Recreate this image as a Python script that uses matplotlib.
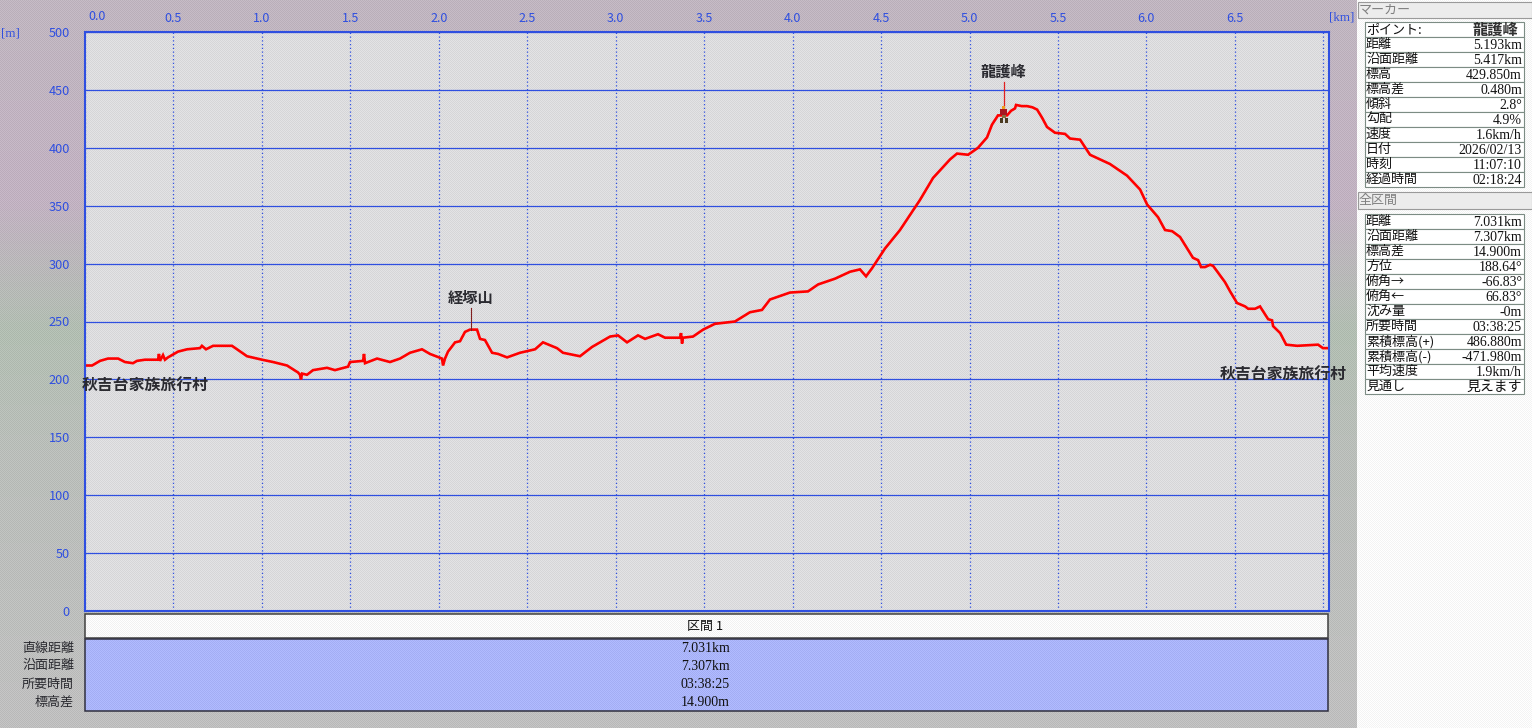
import matplotlib
matplotlib.use('Agg')
import matplotlib.pyplot as plt
from matplotlib.patches import Rectangle
import numpy as np

W, H = 1532, 728
JP = ['Noto Sans CJK JP', 'DejaVu Sans']
NUM = ['Liberation Serif', 'Noto Sans CJK JP', 'DejaVu Sans']
BLUE = '#2f4fe0'
RED = '#ff0000'
DARK = '#2a2a30'

# elevation profile
distance_km = [0.000, 0.040, 0.085, 0.130, 0.187, 0.226, 0.271, 0.294, 0.339, 0.413, 0.418, 0.424, 0.441, 0.452,
               0.469, 0.526, 0.577, 0.650, 0.661, 0.684, 0.724, 0.831, 0.916, 1.001, 1.063, 1.142, 1.204, 1.215,
               1.221, 1.227, 1.255, 1.289, 1.368, 1.413, 1.487, 1.498, 1.572, 1.577, 1.583, 1.651, 1.724, 1.781,
               1.837, 1.905, 1.950, 2.018, 2.024, 2.035, 2.052, 2.092, 2.120, 2.148, 2.176, 2.216, 2.233, 2.261,
               2.301, 2.335, 2.386, 2.459, 2.544, 2.589, 2.668, 2.702, 2.798, 2.866, 2.923, 2.968, 3.013, 3.064,
               3.126, 3.166, 3.239, 3.279, 3.364, 3.369, 3.375, 3.380, 3.437, 3.494, 3.561, 3.674, 3.759, 3.827,
               3.872, 3.985, 4.087, 4.144, 4.240, 4.325, 4.381, 4.415, 4.449, 4.522, 4.607, 4.720, 4.794, 4.890,
               4.929, 4.992, 5.048, 5.099, 5.127, 5.161, 5.212, 5.235, 5.257, 5.263, 5.295, 5.325, 5.355, 5.382,
               5.410, 5.438, 5.483, 5.540, 5.568, 5.625, 5.681, 5.738, 5.794, 5.890, 5.964, 6.004, 6.066, 6.105,
               6.145, 6.190, 6.263, 6.292, 6.309, 6.331, 6.360, 6.377, 6.444, 6.473, 6.512, 6.558, 6.575, 6.614,
               6.642, 6.688, 6.710, 6.716, 6.756, 6.790, 6.852, 6.970, 6.998, 7.031]
elevation_m = [212, 212, 216, 218, 218, 215, 214, 216, 217, 217, 222, 216, 221, 217,
               219, 224, 226, 227, 229, 226, 229, 229, 220, 217, 215, 212, 206, 204,
               200, 205, 204, 208, 210, 208, 211, 215, 216, 222, 214, 218, 215, 218,
               223, 226, 222, 218, 212, 218, 224, 232, 233, 241, 243, 243, 235, 234,
               223, 222, 219, 223, 226, 232, 227, 223, 220, 228, 233, 237, 238, 232,
               238, 235, 239, 236, 236, 240, 231, 236, 237, 243, 248, 250, 258, 260,
               269, 275, 276, 282, 287, 293, 295, 289, 296, 313, 329, 355, 374, 390,
               395, 394, 400, 409, 420, 428, 428, 432, 434, 437, 436, 436, 435, 433,
               426, 418, 413, 412, 408, 407, 394, 390, 386, 376, 364, 351, 340, 329,
               328, 323, 305, 303, 297, 297, 299, 298, 284, 276, 266, 263, 261, 261,
               263, 252, 251, 246, 240, 230, 229, 230, 227, 227]

x_ticks = [0.0, 0.5, 1.0, 1.5, 2.0, 2.5, 3.0, 3.5, 4.0, 4.5, 5.0, 5.5, 6.0, 6.5, 7.0]
x_tick_labels = ['', '0.5', '1.0', '1.5', '2.0', '2.5', '3.0', '3.5', '4.0', '4.5', '5.0', '5.5', '6.0', '6.5', '']
y_ticks = [0, 50, 100, 150, 200, 250, 300, 350, 400, 450, 500]

section_title = '区間 1'
section_names = ['直線距離', '沿面距離', '所要時間', '標高差']
section_values = ['7.031km', '7.307km', '03:38:25', '14.900m']

marker_names = ['ポイント:', '距離', '沿面距離', '標高', '標高差', '傾斜', '勾配', '速度', '日付', '時刻', '経過時間']
marker_values = ['龍護峰', '5.193km', '5.417km', '429.850m', '0.480m', '2.8°', '4.9%', '1.6km/h',
                 '2026/02/13', '11:07:10', '02:18:24']
total_names = ['距離', '沿面距離', '標高差', '方位', '俯角→', '俯角←', '沈み量', '所要時間',
               '累積標高(+)', '累積標高(-)', '平均速度', '見通し']
total_values = ['7.031km', '7.307km', '14.900m', '188.64°', '-66.83°', '66.83°', '-0m', '03:38:25',
                '486.880m', '-471.980m', '1.9km/h', '見えます']


def make_background():
    # dithered window background, colour drifts down the left side
    stops_y = [0, 200, 330, 450, 728]
    stops_c = np.array([[192, 182, 192], [194, 178, 194], [178, 190, 178], [186, 190, 186], [192, 192, 192]])
    img = np.zeros((H, W, 3))
    for c in range(3):
        img[:, :, c] = np.interp(np.arange(H), stops_y, stops_c[:, c])[:, None]
    img[32:611, 85:1329] = [220, 220, 222]
    img[639:711, 85:1328] = [170, 180, 250]
    img[614:638, 85:1328] = [248, 248, 248]
    img[:, 1357:] = [250, 250, 250]
    yy, xx = np.mgrid[0:H, 0:W]
    checker = ((xx + yy) % 2 * 2 - 1)[:, :, None]
    img = img + checker * 7
    return np.clip(img, 0, 255).astype(np.uint8)


def draw_table(ax, top, names, values, big_first=False):
    row_h = 15
    for i, (n, v) in enumerate(zip(names, values)):
        y = top + i * row_h
        ax.add_patch(Rectangle((1365, y), 159, row_h, facecolor='white', edgecolor='#7c8c84', lw=0.8))
        ax.text(1366, y + row_h / 2, n, family=JP, fontsize=9.4, va='center', ha='left', color='#111111')
        if big_first and i == 0:
            ax.text(1518, y + row_h / 2, v, family=JP, fontsize=11, weight='bold', va='center', ha='right',
                    color='#303030')
        else:
            ax.text(1522, y + row_h / 2 + 1, v, family=NUM, fontsize=10, va='center', ha='right', color='#111111')


fig = plt.figure(figsize=(W / 100, H / 100), dpi=100)

bg = fig.add_axes([0, 0, 1, 1], zorder=0)
bg.imshow(make_background(), interpolation='nearest', aspect='auto')
bg.axis('off')

ax = fig.add_axes([85 / W, (H - 611) / H, (1329 - 85) / W, (611 - 32) / H], zorder=1)
ax.patch.set_alpha(0)
ax.set_xlim(0, 7.032)
ax.set_ylim(0, 500)
ax.set_xticks(x_ticks)
ax.set_xticklabels(x_tick_labels, family=JP, fontsize=9, color=BLUE)
ax.set_yticks(y_ticks)
ax.set_yticklabels([str(v) for v in y_ticks], family=JP, fontsize=9.2, color=BLUE)
ax.tick_params(axis='x', top=True, labeltop=True, bottom=False, labelbottom=False, length=0, pad=5)
ax.tick_params(axis='y', left=False, length=0, pad=11)
ax.grid(axis='y', color=BLUE, lw=0.9)
ax.grid(axis='x', color=BLUE, lw=0.9, ls=(0, (1, 2)))
ax.set_axisbelow(True)
for s in ax.spines.values():
    s.set_color(BLUE)
    s.set_linewidth(1.5)
ax.spines['left'].set_linestyle((0, (1, 1)))

ax.plot(distance_km, elevation_m, color=RED, lw=1.9, solid_joinstyle='miter')

# named points
ax.plot([5.193, 5.193], [429.85, 457], color='#e02020', lw=0.9)
ax.plot([2.182, 2.182], [243, 262], color='#802020', lw=0.8)
ax.text(5.193, 466, '龍護峰', family=JP, fontsize=11, weight='bold', color=DARK, ha='center', va='center')
ax.text(2.182, 270, '経塚山', family=JP, fontsize=11, weight='bold', color=DARK, ha='center', va='center')
ax.text(-0.017, 195, '秋吉台家族旅行村', family=JP, fontsize=11.4, weight='bold', color=DARK, ha='left', va='center')
ax.text(7.134, 205, '秋吉台家族旅行村', family=JP, fontsize=11.4, weight='bold', color=DARK, ha='right', va='center')

# everything else is window furniture, laid out in pixels
ov = fig.add_axes([0, 0, 1, 1], zorder=2)
ov.patch.set_alpha(0)
ov.set_xlim(0, W)
ov.set_ylim(H, 0)
ov.axis('off')

# little hiker icon on the marker
ov.add_patch(Rectangle((1000, 109), 7, 6, color='#a81820', lw=0))
ov.add_patch(Rectangle((1002, 106), 3, 3, color='#f0a020', lw=0))
ov.add_patch(Rectangle((1002, 115), 4, 3, color='#8a7040', lw=0))
ov.add_patch(Rectangle((1000, 118), 3, 5, color='#4a3a20', lw=0))
ov.add_patch(Rectangle((1005, 118), 3, 5, color='#4a3a20', lw=0))

ov.text(97, 17, '0.0', family=JP, fontsize=9, color=BLUE, ha='center', va='center')
ov.text(10, 33, '[m]', family=NUM, fontsize=9.4, color=BLUE, ha='center', va='center')
ov.text(1342, 17, '[km]', family=NUM, fontsize=9.4, color=BLUE, ha='center', va='center')

ov.add_patch(Rectangle((85, 614), 1243, 24, fill=False, edgecolor='#404040', lw=1.1))
ov.text(705, 626, section_title, family=JP, fontsize=9.4, color='#111111', ha='center', va='center')
ov.add_patch(Rectangle((85, 639), 1243, 72, fill=False, edgecolor='#303040', lw=1.1))
for i, (n, v) in enumerate(zip(section_names, section_values)):
    y = 648 + i * 18
    ov.text(74, y, n, family=JP, fontsize=9.4, color='#2a2a30', ha='right', va='center')
    ov.text(705, y, v, family=NUM, fontsize=10, color='#111111', ha='center', va='center')

for top, bottom, label in [(2, 18, 'マーカー'), (192, 209, '全区間')]:
    ov.add_patch(Rectangle((1358, top), 174, bottom - top, facecolor='#ececec', edgecolor='#9a9a9a', lw=0.8))
    ov.text(1359, (top + bottom) / 2, label, family=JP, fontsize=9.4, color='#808080', ha='left', va='center')

draw_table(ov, 22, marker_names, marker_values, big_first=True)
draw_table(ov, 214, total_names, total_values)

fig.savefig('out.png', dpi=100)
